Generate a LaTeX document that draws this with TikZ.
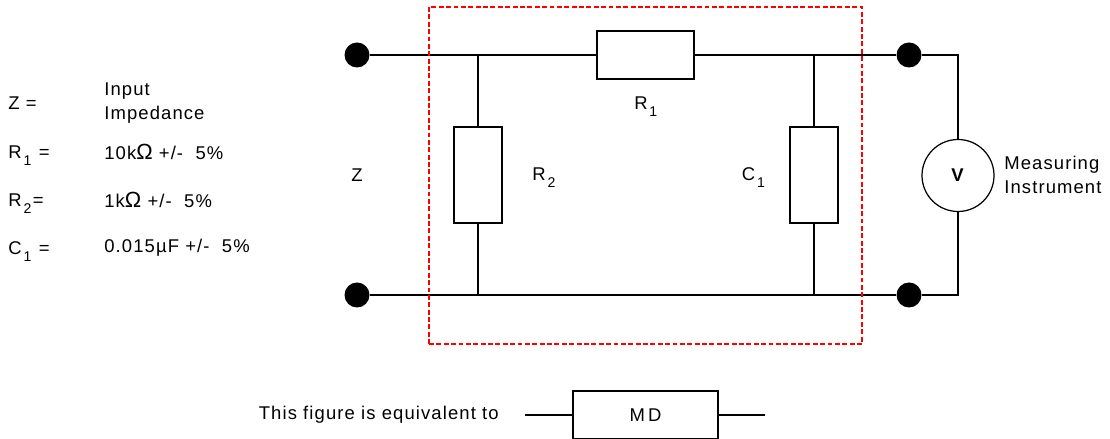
\documentclass[tikz,border=0pt]{standalone}
\usepackage{fontspec}
\setmainfont[LetterSpace=6]{Liberation Sans}
\usetikzlibrary{positioning}
\newcommand{\subs}[1]{\kern0.1em\smash{\raisebox{-4pt}{\fontsize{8}{8}\selectfont #1}}\kern0.08em}
\newcommand{\ohm}{{\fontsize{12.5}{12}\selectfont\addfontfeature{LetterSpace=0}Ω}}
\tikzset{
  wire/.style={line width=0.7pt},
  part/.style={rectangle, draw, line width=0.7pt, inner sep=0pt, fill=white},
  terminal/.style={circle, fill=black, minimum size=0.5cm, inner sep=0pt},
  lbl/.style={inner sep=0pt, font=\fontsize{10.5}{11}\selectfont},
  leftlbl/.style={lbl, anchor=west, align=left}
}
\begin{document}
\begin{tikzpicture}
  \useasboundingbox (0, 0) rectangle (22.2, 8.78);
  % Terminals
  \node (t-1) [terminal] at (7.14, 7.68) {};
  \node (t-2) [terminal] at (7.14, 2.88) {};
  \node (t-3) [terminal] at (18.18, 7.68) {};
  \node (t-4) [terminal] at (18.18, 2.88) {};
  % Parts
  \node (r-1) [part, minimum height=0.96cm, minimum width=1.94cm] at (12.91, 7.68) {};
  \node (r-2) [part, minimum height=1.92cm, minimum width=0.96cm] at (9.56, 5.28) {};
  \node (c-1) [part, minimum height=1.92cm, minimum width=0.96cm] at (16.28, 5.28) {};
  \node (v) [circle, draw, line width=0.7pt, minimum size=1.44cm, inner sep=0pt, lbl] at (19.16, 5.27) {\textbf{V}};
  \node (md) [part, minimum height=0.96cm, minimum width=2.9cm, lbl] at (12.91, 0.48) {M\,D};
  % Junctions
  \coordinate (j-1) at (9.56, 7.68);
  \coordinate (j-2) at (9.56, 2.88);
  \coordinate (j-3) at (16.28, 7.68);
  \coordinate (j-4) at (16.28, 2.88);
  \coordinate (k-1) at (19.16, 7.68);
  \coordinate (k-2) at (19.16, 2.88);
  \coordinate (s-1) at (10.5, 0.48);
  \coordinate (s-2) at (15.3, 0.48);
  % Wires
  \draw[wire] (t-1) -- (r-1.west);
  \draw[wire] (r-1.east) -- (t-3);
  \draw[wire] (t-3) -- (k-1) -- (v.north);
  \draw[wire] (v.south) -- (k-2) -- (t-4);
  \draw[wire] (t-2) -- (t-4);
  \draw[wire] (j-1) -- (r-2.north);
  \draw[wire] (r-2.south) -- (j-2);
  \draw[wire] (j-3) -- (c-1.north);
  \draw[wire] (c-1.south) -- (j-4);
  \draw[wire] (s-1) -- (md.west);
  \draw[wire] (md.east) -- (s-2);
  % Dashed outline
  \node (mdbox) [rectangle, draw=red, dash pattern=on 2.8pt off 1.4pt, line width=0.6pt, minimum height=6.74cm, minimum width=8.66cm, inner sep=0pt] at (12.91, 5.27) {};
  % Circuit labels
  \node (z) [lbl] at (7.14, 5.27) {Z};
  \node (r-2-l) [leftlbl] at (10.64, 5.30) {R\subs{2}};
  \node (c-1-l) [leftlbl] at (14.83, 5.30) {C\subs{1}};
  \node (r-1-l) [lbl] at (12.93, 6.72) {R\subs{1}};
  \node (meas) [leftlbl] at (20.08, 5.28) {Measuring\\[2.5pt]Instrument};
  \node (fig) [lbl, anchor=east] at (9.98, 0.48) {This figure is equivalent to};
  % Legend
  \node (z-k) [leftlbl] at (0.16, 6.72) {Z\,\,=};
  \node (z-v) [leftlbl] at (2.08, 6.72) {Input\\[2.5pt]Impedance};
  \node (r-1-k) [leftlbl] at (0.16, 5.74) {R\subs{1}\,\,=};
  \node (r-1-v) [leftlbl] at (2.08, 5.74) {10k\ohm\,\,+/-\,\, 5\%};
  \node (r-2-k) [leftlbl] at (0.16, 4.78) {R\subs{2}=};
  \node (r-2-v) [leftlbl] at (2.08, 4.78) {1k\ohm\,\,+/-\,\, 5\%};
  \node (c-1-k) [leftlbl] at (0.16, 3.82) {C\subs{1}\,\,=};
  \node (c-1-v) [leftlbl] at (2.08, 3.82) {0.015µF +/-\,\, 5\%};
\end{tikzpicture}
\end{document}
